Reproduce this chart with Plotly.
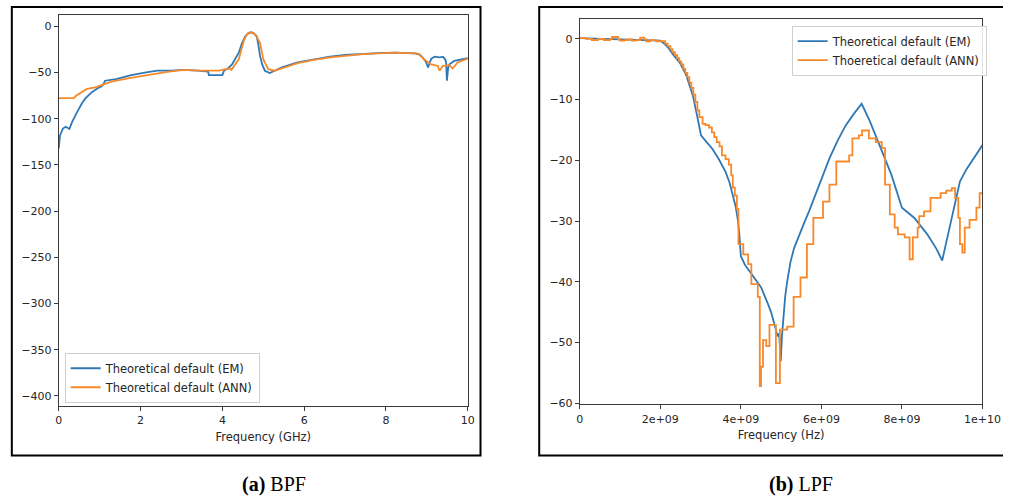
import plotly.graph_objects as go

# ---------------- BPF data (GHz, dB) ----------------
bpf_em_x = [0.0, 0.03, 0.1, 0.17, 0.26, 0.33, 0.42, 0.49, 0.57, 0.65, 0.81, 0.95, 1.05, 1.1, 1.13, 1.4, 1.77,
            2.1, 2.41, 2.75, 3.05, 3.4, 3.65, 3.67, 4.0, 4.04, 4.15, 4.24, 4.32, 4.4, 4.48, 4.56, 4.63, 4.7,
            4.77, 4.84, 4.88, 4.92, 4.98, 5.04, 5.16, 5.3, 5.44, 5.84, 6.2, 6.63, 7.0, 7.43, 7.8, 8.23, 8.71,
            8.82, 8.9, 8.97, 9.03, 9.07, 9.11, 9.19, 9.3, 9.4, 9.45, 9.47, 9.49, 9.52, 9.55, 9.67, 9.85, 10.0]
bpf_em_y = [-132, -118, -110.6, -108.7, -111, -103, -95, -89, -83, -78, -71.2, -67, -64.8, -62, -58.8, -57, -52.7,
            -50, -48, -48, -47, -48, -49, -52.7, -52.7, -48, -45, -41, -35, -28.5, -18, -10.7, -7.5, -6.4,
            -7.5, -10.7, -20, -32, -42, -48, -50.6, -47.5, -44.5, -39, -36, -32.7, -31, -29.5, -29, -28.5, -29.2,
            -30.5, -33.8, -38, -44.5, -39, -34.9, -32.7, -33.5, -33, -36, -39, -58.8, -45, -41, -37.4, -35.5, -34.5]

bpf_ann_x = [0.0, 0.37, 0.43, 0.53, 0.69, 0.89, 1.05, 1.29, 1.69, 2.25, 2.65, 3.05, 3.44, 3.92, 4.16, 4.22,
             4.3, 4.4, 4.52, 4.58, 4.64, 4.7, 4.76, 4.85, 4.92, 5.0, 5.12, 5.28, 5.52, 5.84, 6.2, 6.63, 7.0,
             7.43, 7.8, 8.23, 8.79, 8.93, 9.09, 9.27, 9.31, 9.39, 9.55, 9.63, 9.75, 9.88, 10.0]
bpf_ann_y = [-77.7, -77.7, -74.9, -72, -67.7, -66, -63.5, -59.9, -56.3, -51.7, -49.2, -47, -48, -48, -45.6, -47,
             -42, -35.6, -16, -10, -7.1, -6.5, -7.1, -12, -17.8, -35.6, -46.3, -48, -44.5, -39.7, -36.5, -33.5, -32,
             -30.1, -29.3, -28.5, -29.5, -35.6, -41, -42.8, -48, -42.8, -42, -45.6, -39, -37, -35]

bpf_yticks = [0, -50, -100, -150, -200, -250, -300, -350, -400]
bpf_xticks = [0, 2, 4, 6, 8, 10]

# ---------------- LPF data (Hz, dB) ----------------
lpf_em_x_ghz = [0.0, 0.5, 1.0, 1.5, 2.0, 2.1, 2.2, 2.32, 2.49, 2.65, 2.81, 2.93, 3.01, 3.15, 3.29, 3.45, 3.62, 3.72,
                3.8, 3.87, 3.92, 3.96, 4.0, 4.1, 4.26, 4.4, 4.5, 4.67, 4.75, 4.83, 4.91, 4.95, 4.99, 5.02, 5.05,
                5.1, 5.15, 5.23, 5.32, 5.45, 5.56, 5.7, 5.85, 6.0, 6.2, 6.4, 6.6, 6.8, 7.0, 7.2, 7.42, 7.6, 7.74,
                8.0, 8.31, 8.63, 8.85, 9.0, 9.1, 9.2, 9.3, 9.44, 9.6, 9.8, 10.0]
lpf_em_y = [0.1, 0.0, -0.1, -0.2, -0.3, -0.8, -1.5, -2.6, -4.0, -6.1, -9.4, -13.2, -15.9, -17.0, -18.1, -19.8, -21.9,
            -23.7, -25.6, -27.6, -29.6, -32.0, -35.8, -37.2, -38.7, -40.0, -40.9, -43.6, -45.0, -46.9, -49.0, -48.5,
            -53.1, -49.0, -46.0, -42.5, -40.0, -36.8, -34.5, -32.2, -30.5, -28.3, -25.8, -23.2, -19.7, -16.8,
            -14.3, -12.4, -10.7, -13.5, -17.0, -20.0, -22.4, -27.8, -29.5, -32.2, -34.5, -36.5, -33.5, -30.6,
            -27.5, -23.5, -21.5, -19.5, -17.5]

lpf_ann_x_ghz = [0.0, 0.15, 0.3, 0.45, 0.6, 0.75, 0.8, 0.95, 1.0, 1.1, 1.2, 1.3, 1.4, 1.5, 1.6, 1.65, 1.75, 1.9,
                 2.05, 2.12, 2.18, 2.25, 2.3, 2.36, 2.42, 2.47, 2.52, 2.57, 2.62, 2.67, 2.72, 2.77, 2.82, 2.87,
                 2.92, 2.97, 3.05, 3.12, 3.21, 3.28, 3.34, 3.4, 3.47, 3.53, 3.62, 3.7, 3.76, 3.8, 3.85, 3.9,
                 3.94, 4.06, 4.18, 4.26, 4.42, 4.47, 4.5, 4.55, 4.63, 4.71, 4.87, 4.97, 5.15,
                 5.31, 5.48, 5.64, 5.8, 6.04, 6.2, 6.37, 6.69, 6.77, 6.93, 7.01, 7.18, 7.35, 7.5, 7.58, 7.7,
                 7.82, 7.9, 8.07, 8.19, 8.27, 8.39, 8.43, 8.55, 8.71, 8.96, 9.1, 9.24, 9.32, 9.4, 9.44, 9.5,
                 9.56, 9.68, 9.85, 9.93, 10.0]
lpf_ann_y = [0.1, 0.0, -0.2, 0.0, -0.2, 0.0, 0.3, -0.1, -0.3, -0.2, -0.1, -0.3, -0.2, 0.2, -0.1, -0.4, -0.2, -0.4,
             -0.4, -0.8, -1.2, -1.7, -2.2, -2.7, -3.2, -3.7, -4.2, -4.9, -5.6, -6.3, -7.2, -8.1, -9.2, -10.4,
             -11.8, -12.9, -14.0, -14.2, -14.6, -15.4, -16.2, -17.0, -17.7, -19.2, -19.8, -20.7, -22.5, -24.5,
             -25.8, -28.0, -33.8, -35.5, -37.1, -40.4, -42.5, -57.2, -54.0, -49.6, -50.6, -47.1, -56.7, -47.9,
             -47.4, -42.5, -39.3, -33.8, -29.5, -26.8, -24.0, -20.2, -19.2, -16.4, -15.9,
             -15.1, -16.4, -17.0, -18.0, -24.0, -28.9, -31.1, -32.2, -32.7, -36.3, -32.7, -31.1, -29.2, -28.4,
             -26.2, -25.4, -25.0, -24.6, -26.2, -29.5, -33.8, -35.2, -31.1, -29.8, -27.8, -25.4, -25.7]
lpf_em_x = [v * 1e9 for v in lpf_em_x_ghz]
lpf_ann_x = [v * 1e9 for v in lpf_ann_x_ghz]

lpf_yticks = [0, -10, -20, -30, -40, -50, -60]
lpf_xticks = [0, 2e9, 4e9, 6e9, 8e9, 1e10]
lpf_xticktext = ["0", "2e+09", "4e+09", "6e+09", "8e+09", "1e+10"]

legend_names = ["Theoretical default (EM)", "Theoretical default (ANN)", "Thoeretical default (ANN)"]

BLUE = "#2f78b6"
ORANGE = "#f7892a"
W, H = 1021, 504
FONT = "DejaVu Sans"


def minus(v):
    return str(v).replace("-", "\u2212")


fig = go.Figure()
fig.add_trace(go.Scatter(x=bpf_em_x, y=bpf_em_y, mode="lines", name=legend_names[0],
                         line=dict(color=BLUE, width=1.8), xaxis="x", yaxis="y", legend="legend"))
fig.add_trace(go.Scatter(x=bpf_ann_x, y=bpf_ann_y, mode="lines", name=legend_names[1],
                         line=dict(color=ORANGE, width=1.8), xaxis="x", yaxis="y", legend="legend"))
fig.add_trace(go.Scatter(x=lpf_em_x, y=lpf_em_y, mode="lines", name=legend_names[0],
                         line=dict(color=BLUE, width=1.8), xaxis="x2", yaxis="y2", legend="legend2"))
fig.add_trace(go.Scatter(x=lpf_ann_x, y=lpf_ann_y, mode="lines", name=legend_names[2],
                         line=dict(color=ORANGE, width=1.8, shape="hv"), xaxis="x2", yaxis="y2", legend="legend2"))

axis_common = dict(showgrid=False, zeroline=False, showline=True, mirror=True, linecolor="#3a3a3a",
                   linewidth=1, ticks="outside", ticklen=4, tickcolor="#3a3a3a",
                   tickfont=dict(family=FONT, size=11, color="#262626"))

# outer frames (right frame has no visible right edge inside the picture)
bx0, bx1 = 8 / W, 487 / W
rx0 = 547 / W
fy0, fy1 = 1 - 461 / H, 1 - 7 / H
right_frame_path = f"M 1,{fy1} L {rx0},{fy1} L {rx0},{fy0} L 1,{fy0}"

fig.update_layout(
    width=W, height=H, autosize=False,
    margin=dict(l=0, r=0, t=0, b=0, pad=0),
    paper_bgcolor="white", plot_bgcolor="white",
    xaxis=dict(domain=[56 / W, 474 / W], range=[0, 10], tickvals=bpf_xticks,
               ticktext=[str(v) for v in bpf_xticks], anchor="y",
               title=dict(text="Frequency (GHz)", font=dict(family=FONT, size=11.5, color="#262626"), standoff=6),
               **axis_common),
    yaxis=dict(domain=[1 - 411 / H, 1 - 15 / H], range=[-411, 12.5], tickvals=bpf_yticks,
               ticktext=[minus(v) for v in bpf_yticks], anchor="x", **axis_common),
    xaxis2=dict(domain=[588.5 / W, 1000 / W], range=[0, 1e10], tickvals=lpf_xticks,
                ticktext=lpf_xticktext, anchor="y2",
                title=dict(text="Frequency (Hz)", font=dict(family=FONT, size=11.5, color="#262626"), standoff=6),
                **axis_common),
    yaxis2=dict(domain=[1 - 409.3 / H, 1 - 19 / H], range=[-60.2, 3.3], tickvals=lpf_yticks,
                ticktext=[minus(v) for v in lpf_yticks], anchor="x2", **axis_common),
    legend=dict(x=62 / W, y=1 - 357 / H, xanchor="left", yanchor="top", bgcolor="rgba(255,255,255,0.85)",
                bordercolor="#d0d0d0", borderwidth=1, font=dict(family=FONT, size=11.5, color="#262626")),
    legend2=dict(x=805 / W, y=1 - 26 / H, xanchor="left", yanchor="top", bgcolor="rgba(255,255,255,0.85)",
                 bordercolor="#d0d0d0", borderwidth=1, font=dict(family=FONT, size=11.5, color="#262626")),
    shapes=[
        dict(type="rect", xref="paper", yref="paper", x0=bx0, x1=bx1, y0=fy0, y1=fy1,
             line=dict(color="black", width=2)),
        dict(type="path", xref="paper", yref="paper", path=right_frame_path,
             line=dict(color="black", width=2)),
    ],
    annotations=[
        dict(text="<b>(a)</b> BPF", xref="paper", yref="paper", x=276 / W, y=1 - 490 / H, showarrow=False,
             xanchor="center", yanchor="middle", font=dict(family="Liberation Serif", size=20, color="black")),
        dict(text="<b>(b)</b> LPF", xref="paper", yref="paper", x=815 / W, y=1 - 490 / H, showarrow=False,
             xanchor="center", yanchor="middle", font=dict(family="Liberation Serif", size=20, color="black")),
    ],
)

reset_page = "document.body.style.margin='0';document.body.style.padding='0';document.body.style.overflow='hidden';"
fig.write_html("out.html", config={"displayModeBar": False}, post_script=reset_page)
